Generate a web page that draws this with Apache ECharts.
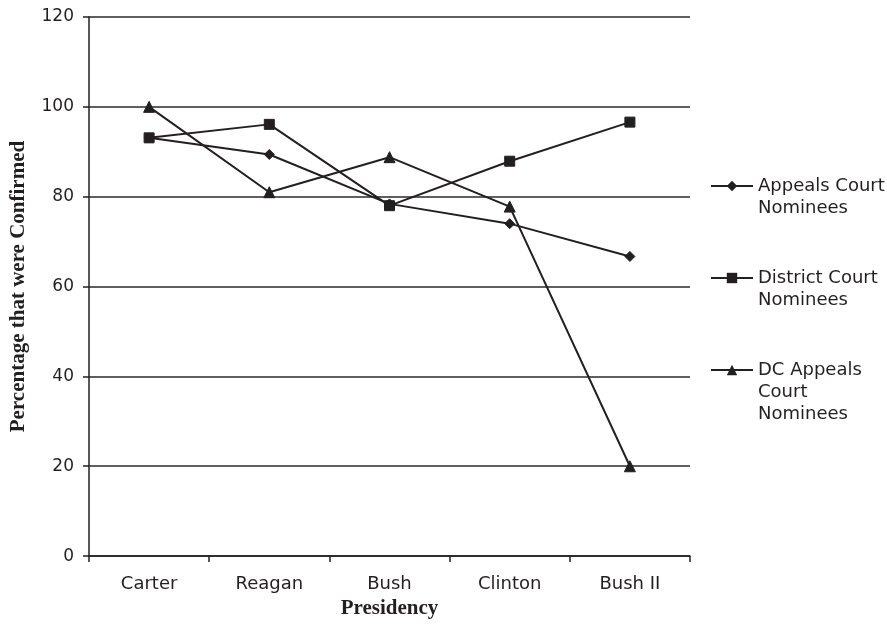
<!DOCTYPE html>
<html>
<head>
<meta charset="utf-8">
<script src="https://cdn.jsdelivr.net/npm/echarts@6/dist/echarts.min.js"></script>
<style>
  html, body { margin: 0; padding: 0; background: #fff; }
  #chart { width: 887px; height: 624px; }
</style>
</head>
<body>
<div id="chart"></div>
<script>
// Confirmation rates of judicial nominees by presidency
const presidencies = ['Carter', 'Reagan', 'Bush', 'Clinton', 'Bush II'];
const appealsCourt = [93.1, 89.4, 78.4, 74.0, 66.7];
const districtCourt = [93.1, 96.1, 78.0, 87.9, 96.6];
const dcAppealsCourt = [100, 81.0, 88.8, 77.8, 20.0];
const yTicks = { min: 0, max: 120, interval: 20 };

const ink = '#231f20';
const sans = 'DejaVu Sans';
const serif = 'Liberation Serif';

// Each legend entry sits in its own box; leading blank lines keep the
// icon level with the first line of its label.
const seriesDefs = [
  { name: 'Appeals Court\nNominees', data: appealsCourt, symbol: 'diamond', size: 10, legendTop: 153, pad: '\n' },
  { name: 'District Court\nNominees', data: districtCourt, symbol: 'rect', size: 10, legendTop: 245, pad: '\n' },
  { name: 'DC Appeals\nCourt\nNominees', data: dcAppealsCourt, symbol: 'triangle', size: 11, legendTop: 315, pad: '\n\n' }
];

const chart = echarts.init(document.getElementById('chart'));

chart.setOption({
  animation: false,
  backgroundColor: '#fff',
  grid: { left: 88, right: 197, top: 17, bottom: 67, containLabel: false },
  legend: seriesDefs.map(s => ({
    data: [s.name],
    orient: 'vertical',
    left: 710,
    top: s.legendTop,
    padding: 0,
    itemWidth: 42,
    itemHeight: 13,
    itemGap: 0,
    selectedMode: false,
    formatter: name => s.pad + name,
    itemStyle: { color: ink, borderColor: ink },
    lineStyle: { color: ink, width: 2 },
    textStyle: { fontFamily: sans, fontSize: 18, color: ink, lineHeight: 22 }
  })),
  xAxis: {
    type: 'category',
    data: presidencies,
    boundaryGap: true,
    name: 'Presidency',
    nameLocation: 'middle',
    nameGap: 40,
    nameTextStyle: { fontFamily: serif, fontWeight: 'bold', fontSize: 21, color: ink },
    axisLine: { lineStyle: { color: ink, width: 1.5 } },
    axisTick: { show: true, alignWithLabel: false, length: 6, lineStyle: { color: ink, width: 1.5 } },
    axisLabel: { fontFamily: sans, fontSize: 18, color: ink, margin: 19 },
    splitLine: { show: false }
  },
  yAxis: {
    type: 'value',
    min: yTicks.min,
    max: yTicks.max,
    interval: yTicks.interval,
    name: 'Percentage that were Confirmed',
    nameLocation: 'middle',
    nameGap: 60,
    nameTextStyle: { fontFamily: serif, fontWeight: 'bold', fontSize: 21, color: ink },
    axisLine: { show: true, lineStyle: { color: ink, width: 1.5 } },
    axisTick: { show: true, length: 6, lineStyle: { color: ink, width: 1.5 } },
    axisLabel: { fontFamily: sans, fontSize: 17, color: ink, margin: 15 },
    splitLine: { show: true, lineStyle: { color: '#2a2a2a', width: 1.5 } }
  },
  series: seriesDefs.map(s => ({
    name: s.name,
    type: 'line',
    data: s.data,
    symbol: s.symbol,
    symbolSize: s.size,
    showAllSymbol: true,
    lineStyle: { color: ink, width: 2 },
    itemStyle: { color: ink, borderColor: ink },
    emphasis: { disabled: true },
    z: 3
  }))
});
</script>
</body>
</html>
